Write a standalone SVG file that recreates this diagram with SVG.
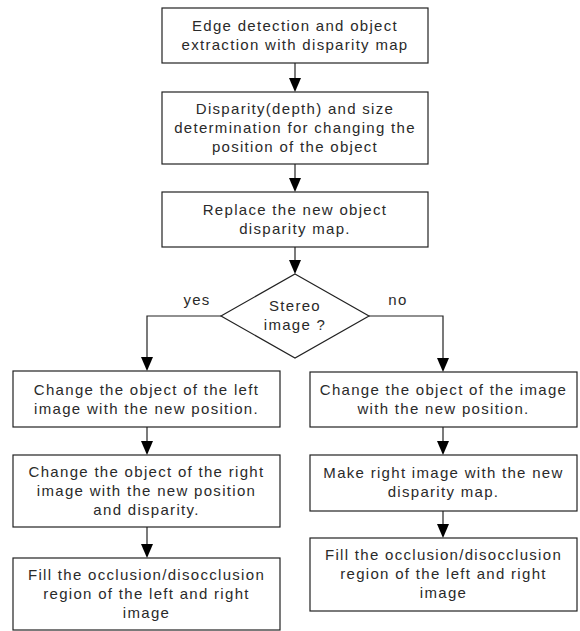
<svg xmlns="http://www.w3.org/2000/svg" width="580" height="631" viewBox="0 0 580 631">
<defs>
<style>
.box{fill:#fff;stroke:#222;stroke-width:1.2}
.t{font-family:"Liberation Sans",Arial,sans-serif;font-size:15px;fill:#2a2a2a;text-anchor:middle;letter-spacing:1.3px}
.c{fill:none;stroke:#222;stroke-width:1.2}
.h{fill:#000}
</style>
</defs>
<rect width="580" height="631" fill="#fff"/>
<g id="connectors">
<path class="c" d="M295,63 V78"/><path class="h" d="M289,78 H301 L295,92 Z"/>
<path class="c" d="M295,164 V178"/><path class="h" d="M289,178 H301 L295,192 Z"/>
<path class="c" d="M295,247 V260"/><path class="h" d="M289,260 H301 L295,274 Z"/>
<path class="c" d="M221,316 H147 V357"/><path class="h" d="M141,357 H153 L147,371 Z"/>
<path class="c" d="M369,316 H443 V358"/><path class="h" d="M437,358 H449 L443,372 Z"/>
<path class="c" d="M147,427 V441"/><path class="h" d="M141,441 H153 L147,455 Z"/>
<path class="c" d="M147,527 V544"/><path class="h" d="M141,544 H153 L147,558 Z"/>
<path class="c" d="M443,427 V441"/><path class="h" d="M437,441 H449 L443,455 Z"/>
<path class="c" d="M443,511 V524"/><path class="h" d="M437,524 H449 L443,538 Z"/>
<text class="t" x="197" y="305">yes</text>
<text class="t" x="398" y="305">no</text>
</g>
<g id="n1"><rect class="box" x="162" y="8" width="266" height="55"/>
<text class="t" x="295" y="31">Edge detection and object</text>
<text class="t" x="295" y="50">extraction with disparity map</text></g>
<g id="n2"><rect class="box" x="162" y="92" width="266" height="72"/>
<text class="t" x="295" y="114">Disparity(depth) and size</text>
<text class="t" x="295" y="133">determination for changing the</text>
<text class="t" x="295" y="152">position of the object</text></g>
<g id="n3"><rect class="box" x="162" y="192" width="266" height="55"/>
<text class="t" x="295" y="215">Replace the new object</text>
<text class="t" x="295" y="234">disparity map.</text></g>
<g id="d1"><polygon class="box" points="295,274 369,316 295,358 221,316"/>
<text class="t" x="295" y="311">Stereo</text>
<text class="t" x="295" y="330">image ?</text></g>
<g id="l1"><rect class="box" x="13" y="371" width="267" height="56"/>
<text class="t" x="146.5" y="395">Change the object of the left</text>
<text class="t" x="146.5" y="414">image with the new position.</text></g>
<g id="l2"><rect class="box" x="13" y="455" width="267" height="72"/>
<text class="t" x="146.5" y="477">Change the object of the right</text>
<text class="t" x="146.5" y="496">image with the new position</text>
<text class="t" x="146.5" y="515">and disparity.</text></g>
<g id="l3"><rect class="box" x="13" y="558" width="267" height="72"/>
<text class="t" x="146.5" y="580">Fill the occlusion/disocclusion</text>
<text class="t" x="146.5" y="599">region of the left and right</text>
<text class="t" x="146.5" y="618">image</text></g>
<g id="r1"><rect class="box" x="310" y="372" width="267" height="55"/>
<text class="t" x="443.5" y="395">Change the object of the image</text>
<text class="t" x="443.5" y="414">with the new position.</text></g>
<g id="r2"><rect class="box" x="310" y="455" width="267" height="56"/>
<text class="t" x="443.5" y="478">Make right image with the new</text>
<text class="t" x="443.5" y="497">disparity map.</text></g>
<g id="r3"><rect class="box" x="310" y="538" width="267" height="73"/>
<text class="t" x="443.5" y="560">Fill the occlusion/disocclusion</text>
<text class="t" x="443.5" y="579">region of the left and right</text>
<text class="t" x="443.5" y="598">image</text></g>
</svg>
